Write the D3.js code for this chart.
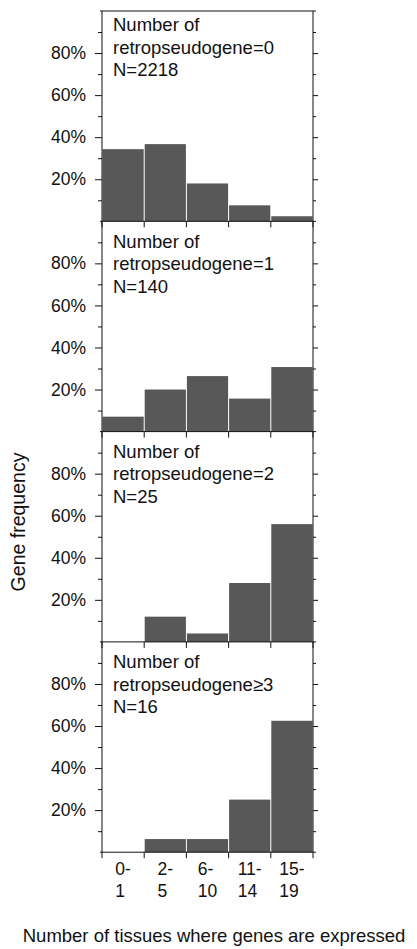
<!DOCTYPE html>
<html>
<head>
<meta charset="utf-8">
<script src="https://cdn.jsdelivr.net/npm/d3@7"></script>
<style>
  body { margin: 0; background: #fff; }
  svg { display: block; font-family: "Liberation Sans", Arial, sans-serif; }
</style>
</head>
<body>
<svg id="chart" width="417" height="949"></svg>
<script>
// bins of tissue counts
const bins = ["0-1", "2-5", "6-10", "11-14", "15-19"];
const binLines = [["0-", "1"], ["2-", "5"], ["6-", "10"], ["11-", "14"], ["15-", "19"]];

// one panel per retropseudogene count
const groupLabels = ["retropseudogene=0", "retropseudogene=1", "retropseudogene=2", "retropseudogene\u22653"];
const groupN = [2218, 140, 25, 16];

// gene frequency (%) per bin
const freq0 = [34.3, 36.7, 18.0, 7.6, 2.4];
const freq1 = [7.1, 20.0, 26.4, 15.7, 30.7];
const freq2 = [0, 12.0, 4.0, 28.0, 56.0];
const freq3 = [0, 6.25, 6.25, 25.0, 62.5];
const freqs = [freq0, freq1, freq2, freq3];

const yTicks = [20, 40, 60, 80];
const yMinor = [10, 30, 50, 70, 90];

var svg = d3.select("#chart");

var left = 102, right = 313, top0 = 11, panelH = 210.3;

var x = d3.scaleBand().domain(bins).range([left, right]).padding(0);

freqs.forEach(function(vals, i) {
  var top = top0 + i * panelH, bottom = top + panelH;
  var y = d3.scaleLinear().domain([0, 100]).range([bottom, top]);
  var g = svg.append("g");

  // bars
  g.selectAll("rect.bar")
    .data(vals)
    .enter().append("rect")
      .attr("class", "bar")
      .attr("x", (d, j) => x(bins[j]) + 0.5)
      .attr("width", x.bandwidth() - 1)
      .attr("y", d => y(d))
      .attr("height", d => y(0) - y(d))
      .attr("fill", "#585858");

  // left axis
  var yl = d3.axisLeft(y).tickValues(yTicks).tickFormat(d => d + "%").tickSize(7).tickPadding(9);
  var ga = g.append("g").attr("transform", "translate(" + left + ",0)").call(yl);
  ga.select(".domain").remove();
  ga.selectAll("text").attr("font-size", 17.5).attr("font-family", "Liberation Sans, Arial, sans-serif").attr("fill", "#111");
  g.append("g").attr("transform", "translate(" + left + ",0)")
    .call(d3.axisLeft(y).tickValues(yMinor).tickSize(4).tickFormat(""))
    .select(".domain").remove();

  // right axis
  var gr = g.append("g").attr("transform", "translate(" + right + ",0)")
    .call(d3.axisRight(y).tickValues(yTicks).tickSize(5).tickFormat(""));
  gr.select(".domain").remove();
  g.append("g").attr("transform", "translate(" + right + ",0)")
    .call(d3.axisRight(y).tickValues(yMinor).tickSize(3).tickFormat(""))
    .select(".domain").remove();

  // bottom ticks at bin edges
  var edges = bins.map(b => x(b)).concat([right]);
  g.selectAll("line.xt")
    .data(edges)
    .enter().append("line")
      .attr("class", "xt")
      .attr("x1", d => d).attr("x2", d => d)
      .attr("y1", bottom).attr("y2", bottom + 6)
      .attr("stroke", "#111");

  // frame
  g.append("line").attr("x1", left).attr("x2", left).attr("y1", top).attr("y2", bottom).attr("stroke", "#111");
  g.append("line").attr("x1", right).attr("x2", right).attr("y1", top).attr("y2", bottom).attr("stroke", "#111");
  g.append("line").attr("x1", left - 2).attr("x2", right + 3).attr("y1", bottom).attr("y2", bottom).attr("stroke", "#111");
  if (i === 0) {
    g.append("line").attr("x1", left - 2).attr("x2", right + 3).attr("y1", top).attr("y2", top).attr("stroke", "#111");
  }

  // panel label
  var capTop = top + (i === 0 ? 7 : 13);
  var lines = ["Number of", groupLabels[i], "N=" + groupN[i]];
  g.append("text")
    .attr("font-size", 18.5)
    .attr("fill", "#111")
    .selectAll("tspan")
    .data(lines)
    .enter().append("tspan")
      .attr("x", 113)
      .attr("y", (d, k) => capTop + 13.3 + k * 22.5)
      .text(d => d);
});

svg.selectAll(".tick line").attr("stroke", "#111");

// x tick labels: two left-aligned lines, block centered in bin
var lastBottom = top0 + 4 * panelH;
binLines.forEach(function(pair, j) {
  var t = svg.append("text").attr("font-size", 17.5).attr("fill", "#111");
  t.selectAll("tspan").data(pair).enter().append("tspan")
    .attr("y", (d, k) => lastBottom + 23 + k * 22)
    .text(d => d);
  var w = d3.max(t.selectAll("tspan").nodes(), n => n.getComputedTextLength());
  var cx = x(bins[j]) + x.bandwidth() / 2;
  t.selectAll("tspan").attr("x", cx - w / 2);
});

// axis titles
svg.append("text")
  .attr("transform", "translate(25,522) rotate(-90)")
  .attr("text-anchor", "middle")
  .attr("font-size", 19.5)
  .attr("fill", "#111")
  .text("Gene frequency");

svg.append("text")
  .attr("x", 214)
  .attr("y", 942)
  .attr("text-anchor", "middle")
  .attr("font-size", 18.5)
  .attr("fill", "#111")
  .text("Number of tissues where genes are expressed");
</script>
</body>
</html>
